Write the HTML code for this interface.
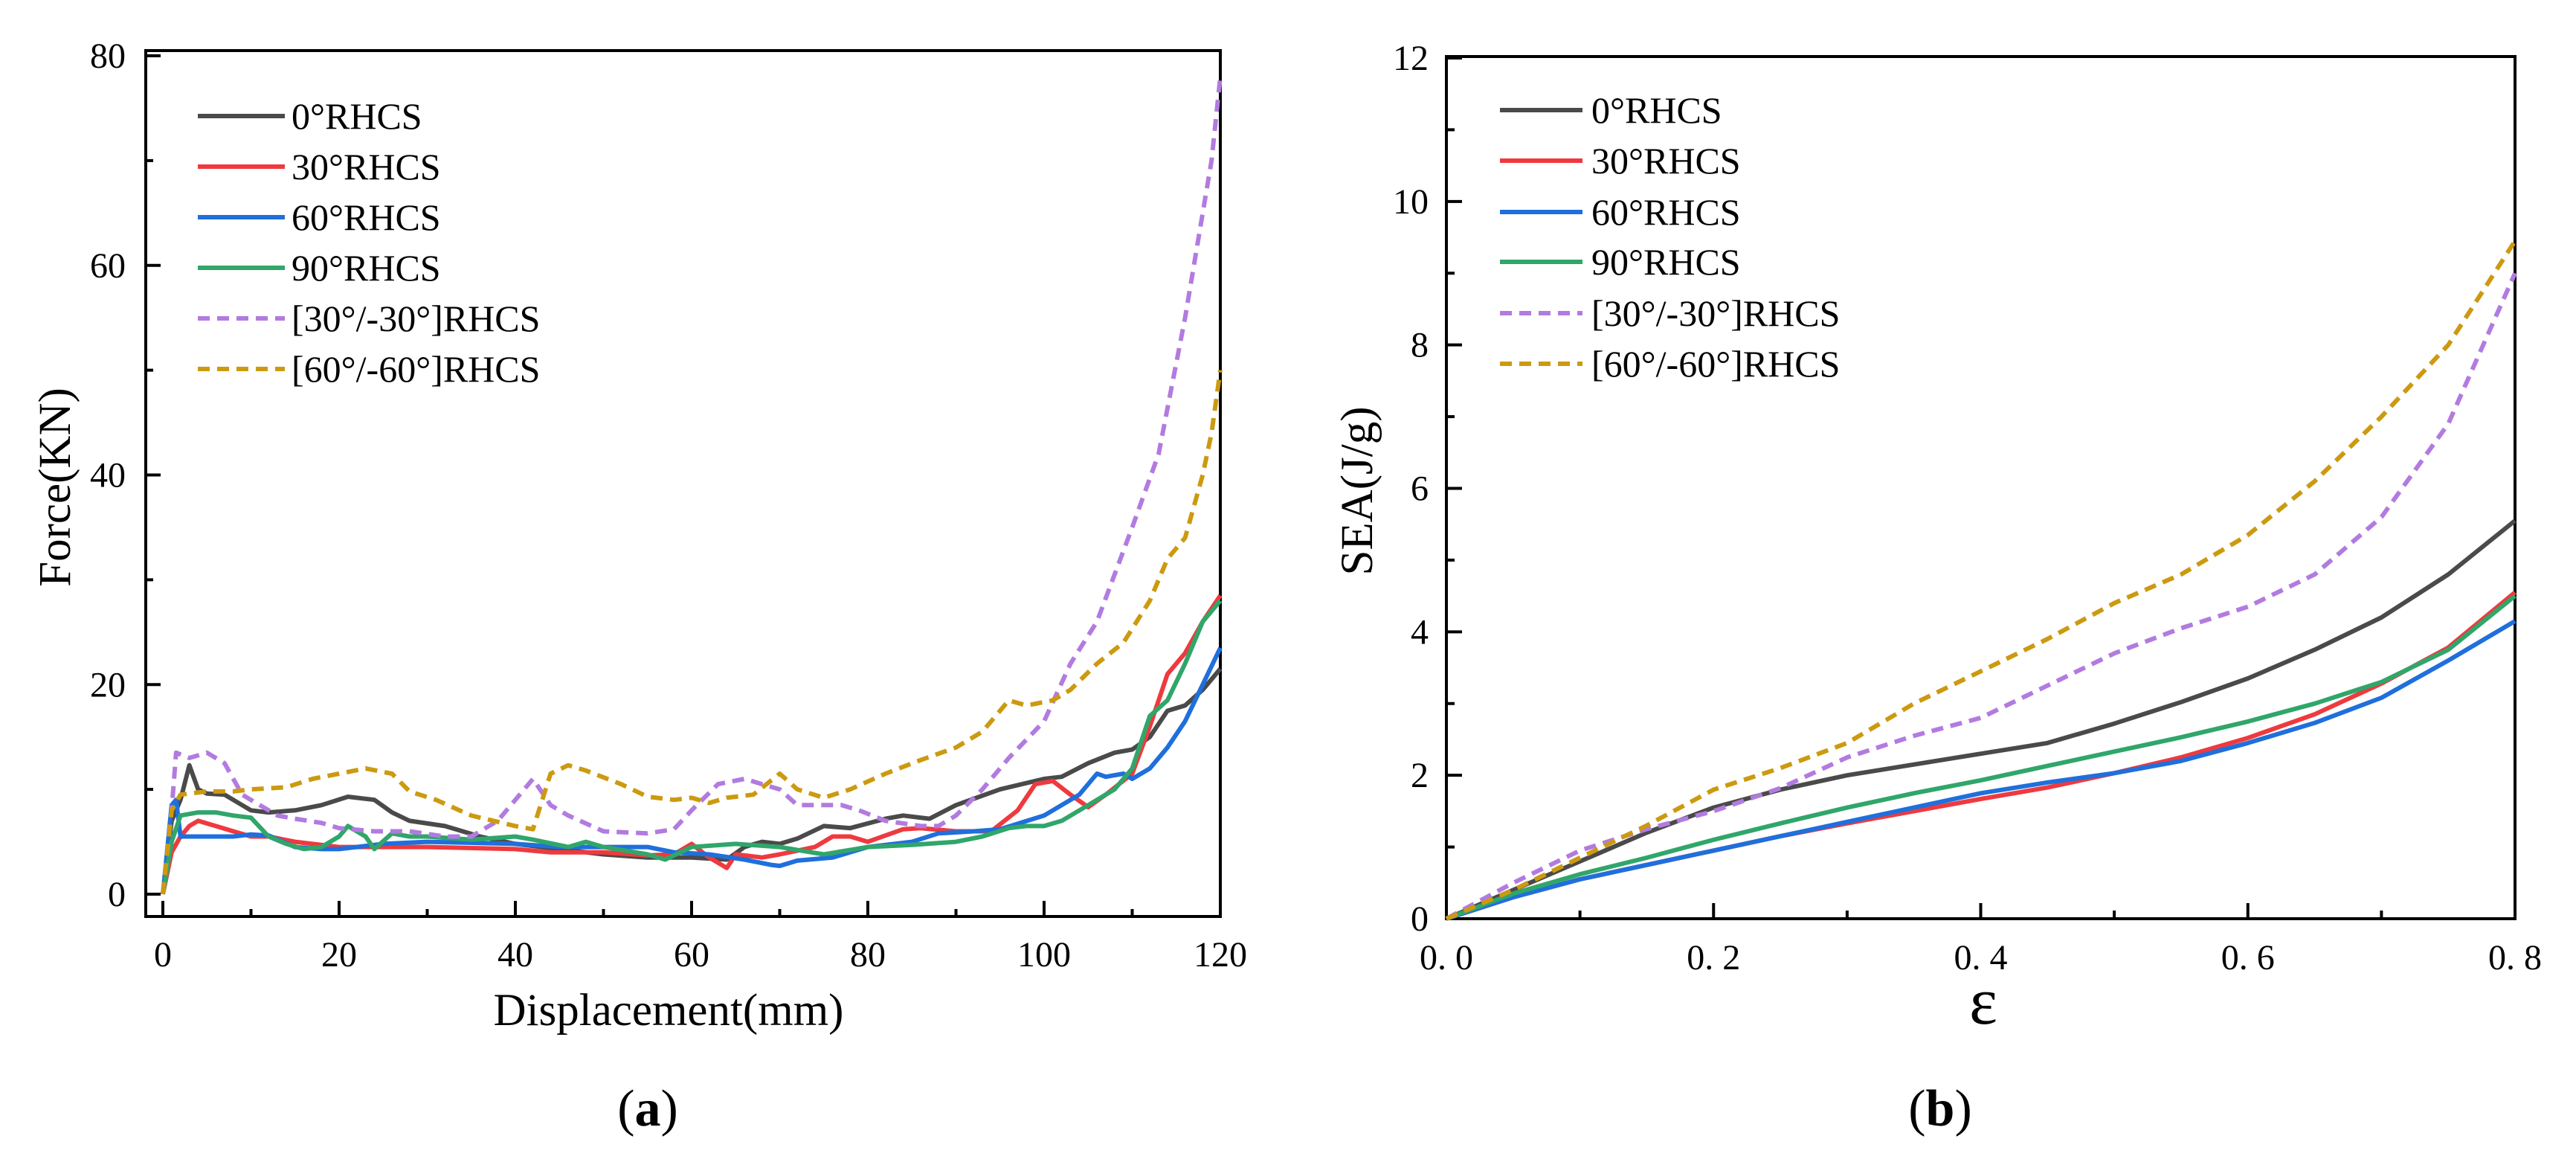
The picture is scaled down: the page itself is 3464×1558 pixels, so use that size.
<!DOCTYPE html>
<html><head><meta charset="utf-8">
<style>
html,body{margin:0;padding:0;background:#fff;}
svg{display:block;font-family:"Liberation Serif",serif;}
</style></head>
<body>
<svg id="fig" width="3464" height="1558" viewBox="0 0 3464 1558" xmlns="http://www.w3.org/2000/svg">
<g id="chartA"></g>
<g id="chartB"></g>
</svg>
<script>
// ---------- Chart (a) data ----------
const seriesNames = ["0°RHCS","30°RHCS","60°RHCS","90°RHCS","[30°/-30°]RHCS","[60°/-60°]RHCS"];
const seriesColors = ["#4a4a4a","#ee3a3f","#1f6fdc","#30a66a","#b27be0","#cc9a10"];
const seriesDashed = [false,false,false,false,true,true];

const a0x = [0,1,2,3,4,5,7,9,10,12,15,18,21,24,26,28,32,36,40,45,50,55,60,64,66,68,70,72,75,78,82,84,87,90,95,100,102,105,108,110,112,114,116,118,120];
const a0y = [0,7,9,12.3,10,9.6,9.5,8.5,8,7.8,8,8.5,9.3,9,7.8,7,6.5,5.5,4.8,4.3,3.8,3.5,3.5,3.3,4.5,5,4.8,5.3,6.5,6.3,7.2,7.5,7.2,8.5,10,11,11.2,12.5,13.5,13.8,15,17.5,18,19.5,21.5];
const a30x = [0,1,2,3,4,6,8,10,12,15,20,30,40,44,50,55,58,60,62,64,65,68,70,74,76,78,80,84,86,90,94,97,99,101,103,105,107,110,112,114,116,118,120];
const a30y = [0,4,5.5,6.5,7,6.5,6,5.5,5.5,5,4.5,4.5,4.3,4,4,3.7,3.8,4.8,3.5,2.5,3.8,3.5,3.8,4.5,5.5,5.5,5,6.2,6.3,6,6,8,10.5,10.8,9.5,8.3,9.5,11.5,16,21,23,26,28.5];
const a60x = [0,1,1.5,2,5,8,10,12,15,18,20,25,30,40,45,50,55,58,62,66,69,70,72,76,80,85,88,92,95,100,104,106,107,109,110,112,114,116,118,120];
const a60y = [0,8.5,9,5.5,5.5,5.5,5.7,5.6,4.5,4.3,4.3,4.8,5,4.8,4.5,4.5,4.5,4,3.8,3.3,2.8,2.7,3.2,3.5,4.5,5,5.8,6,6.2,7.5,9.5,11.5,11.2,11.5,11,12,14,16.5,20,23.5];
const a90x = [0,1,2,4,6,8,10,12,14,16,18,20,21,23,24,26,28,30,35,40,42,46,48,50,55,57,60,65,70,75,80,85,90,93,96,98,100,102,105,108,110,112,114,116,118,120];
const a90y = [0,5,7.5,7.8,7.8,7.5,7.3,5.5,4.8,4.3,4.5,5.5,6.5,5.5,4.3,5.8,5.5,5.5,5.2,5.5,5.2,4.5,5,4.5,3.8,3.3,4.5,4.8,4.5,3.8,4.5,4.7,5,5.5,6.3,6.5,6.5,7,8.5,10,12,17,18.5,22,26,28];
const a3030x = [0,1,1.5,3,5,7,9,11,13,15,18,20,24,28,32,35,38,40,42,44,46,50,55,58,60,63,66,68,70,72,74,77,79,82,86,88,90,93,96,100,103,106,110,113,116,119,120];
const a3030y = [0,8,13.5,13,13.5,12.5,9.5,8.5,7.5,7.2,6.8,6.3,6,6,5.5,5.5,7,9,11,8.5,7.5,6,5.8,6.2,8,10.5,11,10.5,10,8.5,8.5,8.5,8,7,6.5,6.5,7.5,10,13,16.5,22,26,35,42,55,70,78];
const a6060x = [0,1,2,5,8,10,14,17,20,23,26,28,31,35,40,42,44,46,48,52,55,58,60,62,64,67,70,72,75,78,82,86,90,93,96,98,101,103,106,109,112,114,116,118,119,120];
const a6060y = [0,8,9.5,9.8,9.8,10,10.2,11,11.5,12,11.5,9.8,9,7.5,6.5,6.2,11.5,12.3,11.8,10.5,9.3,9,9.2,8.7,9.2,9.5,11.5,10,9.2,10,11.5,12.8,14,15.5,18.5,18,18.5,19.5,22,24,28,32,34,40,44,50];
const aXTicks = [0,20,40,60,80,100,120];
const aYTicks = [0,20,40,60,80];

// ---------- Chart (b) data ----------
const bx = [0,0.05,0.1,0.15,0.2,0.25,0.3,0.35,0.4,0.45,0.5,0.55,0.6,0.65,0.7,0.75,0.8];
const b0 = [0,0.4,0.8,1.2,1.55,1.8,2.0,2.15,2.3,2.45,2.72,3.02,3.35,3.75,4.2,4.8,5.55];
const b30 = [0,0.3,0.55,0.75,0.95,1.15,1.33,1.5,1.67,1.83,2.03,2.25,2.52,2.85,3.28,3.78,4.55];
const b60 = [0,0.3,0.55,0.75,0.95,1.15,1.35,1.55,1.75,1.9,2.03,2.2,2.45,2.73,3.08,3.6,4.15];
const b90 = [0,0.35,0.62,0.85,1.1,1.33,1.55,1.75,1.93,2.13,2.33,2.53,2.75,3.0,3.3,3.75,4.5];
const b3030 = [0,0.5,0.95,1.25,1.5,1.82,2.25,2.55,2.8,3.25,3.7,4.05,4.35,4.8,5.6,6.9,9.0];
const b6060 = [0,0.4,0.85,1.3,1.8,2.1,2.45,3.0,3.45,3.9,4.4,4.8,5.35,6.1,7.0,8.0,9.45];
const bXTicks = [0,0.2,0.4,0.6,0.8];
const bXTickLabels = ["0. 0","0. 2","0. 4","0. 6","0. 8"];
const bYTicks = [0,2,4,6,8,10,12];

const NS = "http://www.w3.org/2000/svg";
function mk(parent, tag, attrs, text){
  const e = document.createElementNS(NS, tag);
  for (const k in attrs) e.setAttribute(k, attrs[k]);
  if (text !== undefined) e.textContent = text;
  parent.appendChild(e);
  return e;
}

const axA = v => 219 + (v - 0) * (1641 - 219) / 120;
const ayA = v => 1202 - v * (1202 - 75) / 80;
const axB = v => 1945 + v * (3382 - 1945) / 0.8;
const ayB = v => 1235 - v * (1235 - 78) / 12;

function drawLine(g, xs, ys, sx, sy, i, name){
  const d = xs.map((x, k) => (k ? "L" : "M") + sx(x).toFixed(1) + "," + sy(ys[k]).toFixed(1)).join(" ");
  const p = mk(g, "path", {d: d, fill: "none", stroke: seriesColors[i], "stroke-width": 6, "stroke-linejoin": "round"});
  if (seriesDashed[i]) p.setAttribute("stroke-dasharray", "16 10");
  
  
}

function drawLegend(g, lx0, lx1, tx, rows, prefix){
  seriesNames.forEach((n, i) => {
    const y = rows[i];
    const l = mk(g, "line", {x1: lx0, x2: lx1, y1: y, y2: y, stroke: seriesColors[i], "stroke-width": 6});
    if (seriesDashed[i]) l.setAttribute("stroke-dasharray", "16 10");
    
    
    const t = mk(g, "text", {x: tx, y: y + 17, "font-size": 50, fill: "#000"}, n);
    
    
  });
}

(function(){
  const g = document.getElementById("chartA");
  const L = 196, R = 1641, T = 68, B = 1232;
  const f = mk(g, "rect", {x: L, y: T, width: R - L, height: B - T, fill: "none", stroke: "#000", "stroke-width": 4});
  
  
  for (let v = 0; v <= 120; v += 10) {
    const major = aXTicks.indexOf(v) >= 0;
    const t = mk(g, "line", {x1: axA(v), x2: axA(v), y1: B, y2: B - (major ? 21 : 10), stroke: "#000", "stroke-width": 4});
    
    
  }
  aXTicks.forEach(v => {
    const t = mk(g, "text", {x: axA(v), y: 1299, "font-size": 48, "text-anchor": "middle"}, String(v));
    
    
  });
  for (let v = 0; v <= 80; v += 10) {
    const major = aYTicks.indexOf(v) >= 0;
    const t = mk(g, "line", {x1: L, x2: L + (major ? 20 : 10), y1: ayA(v), y2: ayA(v), stroke: "#000", "stroke-width": 4});
    
    
  }
  aYTicks.forEach(v => {
    const t = mk(g, "text", {x: 169, y: ayA(v) + 16, "font-size": 48, "text-anchor": "end"}, String(v));
    
    
  });
  const xs = [a0x,a30x,a60x,a90x,a3030x,a6060x], ys = [a0y,a30y,a60y,a90y,a3030y,a6060y];
  xs.forEach((x, i) => drawLine(g, x, ys[i], axA, ayA, i, 'line-a-' + i));
  drawLegend(g, 266, 383, 392, [156,224,292,360,428,496], 'a');
  const xt = mk(g, "text", {x: 899, y: 1378, "font-size": 61, "text-anchor": "middle"}, "Displacement(mm)");
  
  
  const yt = mk(g, "text", {x: 0, y: 0, "font-size": 61, "text-anchor": "middle", transform: "translate(94,655) rotate(-90)"}, "Force(KN)");
  
  
  const cap = mk(g, "text", {x: 871, y: 1513, "font-size": 70, "text-anchor": "middle"}, "");
  cap.innerHTML = '(<tspan font-weight="bold">a</tspan>)';
  
  
})();

(function(){
  const g = document.getElementById("chartB");
  const L = 1945, R = 3382, T = 76, B = 1235;
  const f = mk(g, "rect", {x: L, y: T, width: R - L, height: B - T, fill: "none", stroke: "#000", "stroke-width": 4});
  
  
  for (let k = 0; k <= 8; k++) {
    const v = k / 10, major = k % 2 === 0;
    const t = mk(g, "line", {x1: axB(v), x2: axB(v), y1: B, y2: B - (major ? 21 : 11), stroke: "#000", "stroke-width": 4});
    
    
  }
  bXTicks.forEach((v, i) => {
    const t = mk(g, "text", {x: axB(v), y: 1303, "font-size": 48, "text-anchor": "middle"}, bXTickLabels[i]);
    
    
  });
  for (let v = 0; v <= 12; v += 1) {
    const major = v % 2 === 0;
    const t = mk(g, "line", {x1: L, x2: L + (major ? 21 : 11), y1: ayB(v), y2: ayB(v), stroke: "#000", "stroke-width": 4});
    
    
  }
  bYTicks.forEach(v => {
    const t = mk(g, "text", {x: 1921, y: ayB(v) + 16, "font-size": 48, "text-anchor": "end"}, String(v));
    
    
  });
  [b0,b30,b60,b90,b3030,b6060].forEach((y, i) => drawLine(g, bx, y, axB, ayB, i, 'line-b-' + i));
  drawLegend(g, 2017, 2128, 2140, [148,216,285,352,421,489], 'b');
  const xt = mk(g, "text", {x: 2667, y: 1376, "font-size": 90, "text-anchor": "middle"}, "ε");
  
  
  const yt = mk(g, "text", {x: 0, y: 0, "font-size": 61, "text-anchor": "middle", transform: "translate(1845,660) rotate(-90)"}, "SEA(J/g)");
  
  
  const cap = mk(g, "text", {x: 2609, y: 1513, "font-size": 70, "text-anchor": "middle"}, "");
  cap.innerHTML = '(<tspan font-weight="bold">b</tspan>)';
  
  
})();
</script>
</body></html>
